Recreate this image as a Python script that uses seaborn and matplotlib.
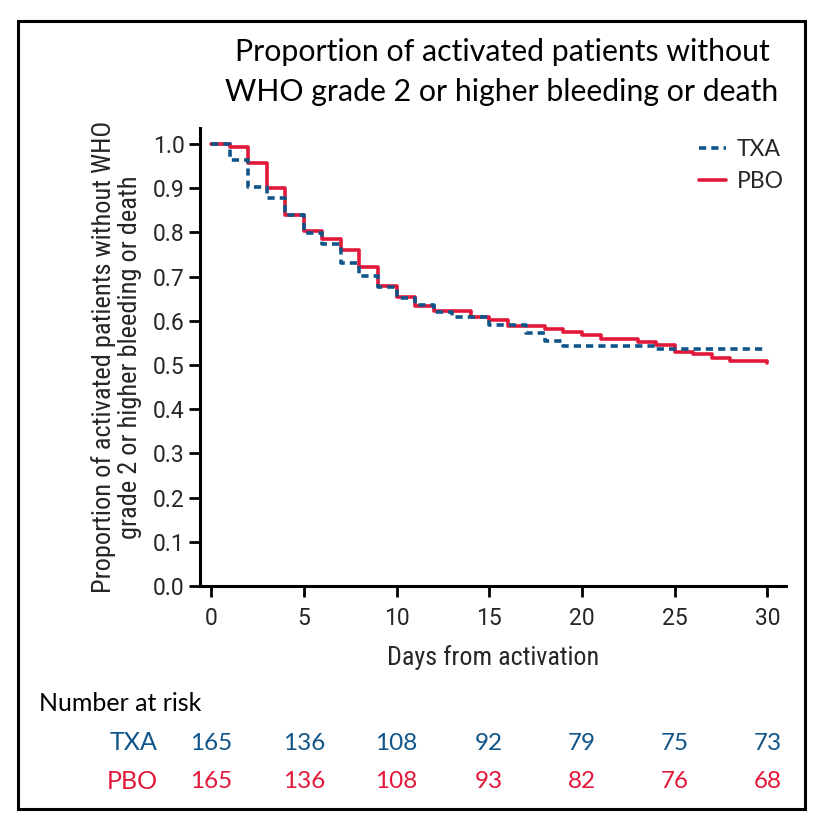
import numpy as np
import pandas as pd
import matplotlib
matplotlib.use("Agg")
import matplotlib.pyplot as plt
import matplotlib.font_manager as fm
import matplotlib.transforms as mtransforms
from matplotlib.patches import Rectangle
from matplotlib.lines import Line2D
import seaborn as sns

# ---------------- data ----------------
txa_days = [0, 1, 2, 3, 4, 5, 6, 7, 8, 9, 10, 11, 12, 13, 15, 17, 18, 19, 24, 30]
txa_surv = [1.0, 0.964, 0.902, 0.877, 0.839, 0.798, 0.773, 0.731, 0.702, 0.676,
            0.651, 0.636, 0.619, 0.608, 0.590, 0.572, 0.555, 0.544, 0.536, 0.536]

pbo_days = [0, 1, 2, 3, 4, 5, 6, 7, 8, 9, 10, 11, 12, 14, 15, 16, 18, 19, 20, 21,
            23, 24, 25, 26, 27, 28, 30]
pbo_surv = [1.0, 0.994, 0.956, 0.900, 0.839, 0.802, 0.784, 0.759, 0.722, 0.679,
            0.653, 0.634, 0.621, 0.608, 0.602, 0.589, 0.582, 0.575, 0.568, 0.559,
            0.553, 0.545, 0.530, 0.525, 0.515, 0.510, 0.504]

risk_days = [0, 5, 10, 15, 20, 25, 30]
txa_risk = [165, 136, 108, 92, 79, 75, 73]
pbo_risk = [165, 136, 108, 93, 82, 76, 68]

group_names = ["TXA", "PBO"]
x_ticks = [0, 5, 10, 15, 20, 25, 30]
y_ticks = [0.0, 0.1, 0.2, 0.3, 0.4, 0.5, 0.6, 0.7, 0.8, 0.9, 1.0]

title_text = "Proportion of activated patients without\nWHO grade 2 or higher bleeding or death"
ylabel_text = "Proportion of activated patients without WHO\ngrade 2 or higher bleeding or death"
xlabel_text = "Days from activation"

BLUE = "#10558a"
RED = "#e2183a"

# ---------------- fonts ----------------
sns.set_style("ticks")
names = {f.name for f in fm.fontManager.ttflist}
cond_family = None
cond_stretch = "normal"
for cand in ["Roboto Condensed", "Open Sans Condensed", "Liberation Sans Narrow",
             "Noto Sans Condensed", "DejaVu Sans Condensed"]:
    if cand in names:
        cond_family = cand
        break
if cond_family is None:
    if any(f.name == "DejaVu Sans" and str(f.stretch) in ("condensed", "semi-condensed")
           for f in fm.fontManager.ttflist):
        cond_family = "DejaVu Sans"
        cond_stretch = "condensed"
    else:
        cond_family = "Roboto"
main_family = "Lato" if "Lato" in names else "DejaVu Sans"
tick_family = "Roboto" if "Roboto" in names else cond_family
plt.rcParams["font.family"] = [main_family, "DejaVu Sans"]

cond = dict(family=cond_family, stretch=cond_stretch)

# ---------------- figure ----------------
W, H = 820, 822
fig = plt.figure(figsize=(W / 100, H / 100), dpi=100)
ax = fig.add_axes([200 / W, 1 - 586 / H, 586 / W, 458 / H])

df_txa = pd.DataFrame({"day": txa_days, "surv": txa_surv})
df_pbo = pd.DataFrame({"day": pbo_days, "surv": pbo_surv})

DASH = (0, (2.0, 1.4))
LW = 2.6
sns.lineplot(data=df_pbo, x="day", y="surv", ax=ax, color=RED, lw=LW,
             drawstyle="steps-post", estimator=None, sort=False)
sns.lineplot(data=df_txa, x="day", y="surv", ax=ax, color=BLUE, lw=LW,
             drawstyle="steps-post", estimator=None, sort=False,
             linestyle=DASH)

ax.set_xlim(-0.6, 31.0)
ax.set_ylim(0.0, 1.036)
ax.set_xticks(x_ticks)
ax.set_yticks(y_ticks)
ax.set_xticklabels([str(t) for t in x_ticks], fontsize=16.5, family=tick_family)
ax.set_yticklabels([f"{t:.1f}" for t in y_ticks], fontsize=16.5, family=tick_family)
ax.tick_params(axis="both", length=8, width=2.0, color="black")
ax.tick_params(axis="x", pad=7)
ax.tick_params(axis="y", pad=3)
for s in ["top", "right"]:
    ax.spines[s].set_visible(False)
for s in ["left", "bottom"]:
    ax.spines[s].set_linewidth(2.2)
    ax.spines[s].set_color("black")

ax.set_ylabel(ylabel_text, fontsize=19.0, linespacing=1.12, va="center", **cond)
ax.yaxis.set_label_coords(-0.142, 0.5)
ax.set_xlabel(xlabel_text, fontsize=18.7, va="center", **cond)
ax.xaxis.set_label_coords(0.5, -0.157)

handles = [Line2D([], [], color=BLUE, lw=LW, linestyle=DASH),
           Line2D([], [], color=RED, lw=LW)]
ax.legend(handles, group_names, loc="upper right", bbox_to_anchor=(1.02, 1.005),
          frameon=False, fontsize=16.5, handlelength=1.15, handletextpad=0.5,
          labelspacing=0.45, borderaxespad=0.2)

# title
fig.text(502 / W, 1 - 72 / H, title_text, ha="center", va="center",
         fontsize=21.8, linespacing=1.48, color="black")

# risk table
trans = mtransforms.blended_transform_factory(ax.transData, fig.transFigure)
fig.text(39 / W, 1 - 703 / H, "Number at risk", ha="left", va="center",
         fontsize=18, color="black")
rows = [(group_names[0], txa_risk, BLUE, 743), (group_names[1], pbo_risk, RED, 781)]
for name, vals, col, ypx in rows:
    fig.text(158 / W, 1 - ypx / H, name, ha="right", va="center", fontsize=18, color=col)
    for d, v in zip(risk_days, vals):
        ax.text(d, 1 - ypx / H, str(v), transform=trans, ha="center", va="center",
                fontsize=17.5, color=col, clip_on=False)

# outer frame
fig.patches.append(Rectangle((18 / W, 1 - 809 / H), 787 / W, 788 / H,
                             transform=fig.transFigure, fill=False,
                             edgecolor="black", lw=2.2))

fig.savefig("out.png", dpi=100)
